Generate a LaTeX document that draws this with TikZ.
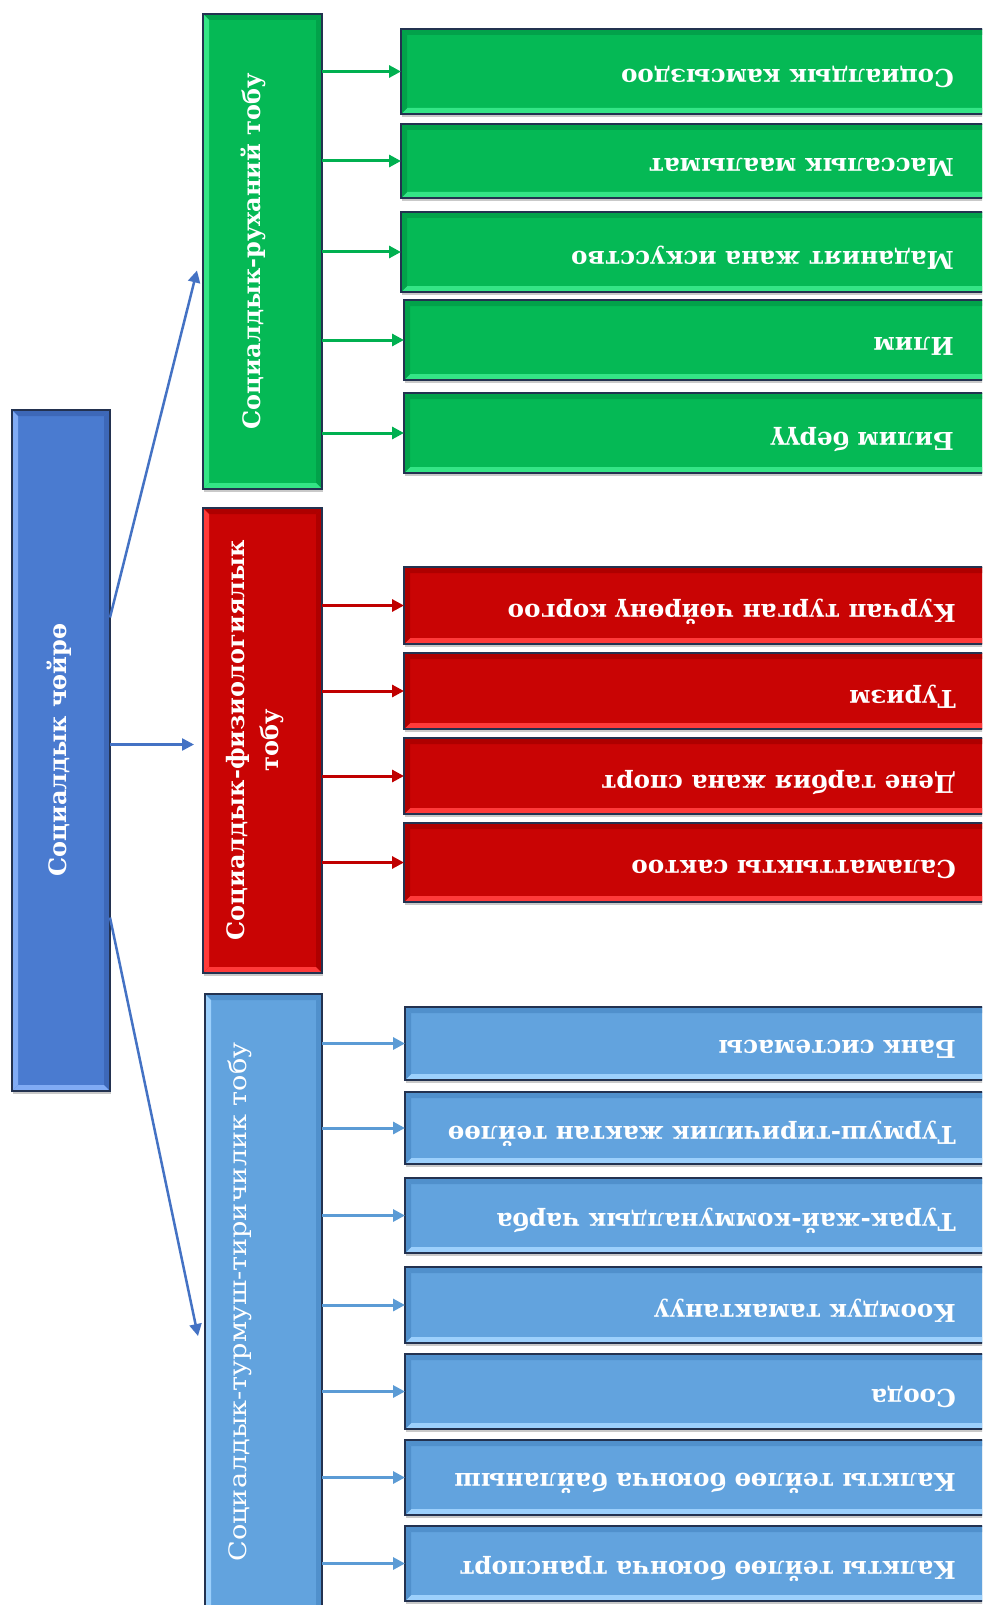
\documentclass[tikz,border=0pt]{standalone}
\usepackage{fontspec}
\setmainfont{DejaVu Serif}
\usetikzlibrary{arrows.meta,shadows}
\definecolor{gf}{HTML}{05B955}
\definecolor{gl}{HTML}{34E586}
\definecolor{gd}{HTML}{02A24A}
\definecolor{rf}{HTML}{C90404}
\definecolor{rl}{HTML}{FF3A3A}
\definecolor{rd}{HTML}{AE0000}
\definecolor{bf}{HTML}{62A3DE}
\definecolor{bl}{HTML}{9CD0FC}
\definecolor{bd}{HTML}{5090CC}
\definecolor{mf}{HTML}{4A7BD0}
\definecolor{ml}{HTML}{80ABF5}
\definecolor{md}{HTML}{3D68B8}
\definecolor{bord}{HTML}{233250}
\definecolor{ga}{HTML}{00B050}
\definecolor{ra}{HTML}{C00000}
\definecolor{ba}{HTML}{5B9BD5}
\definecolor{ma}{HTML}{4472C4}
\tikzset{
  bbox/.style n args={3}{draw=bord, line width=1.4pt, inner sep=0pt, outer sep=0pt,
    anchor=north west, fill=#1f,
    drop shadow={shadow xshift=0.5pt, shadow yshift=-3pt, fill=gray!70, opacity=0.6},
    path picture={
      \fill[#1d] (path picture bounding box.north west) -- (path picture bounding box.north east)
        -- ([xshift=-6pt,yshift=-6pt]path picture bounding box.north east)
        -- ([xshift=6pt,yshift=-6pt]path picture bounding box.north west) -- cycle;
      \fill[#1#3] (path picture bounding box.north east) -- (path picture bounding box.south east)
        -- ([xshift=-6pt,yshift=6pt]path picture bounding box.south east)
        -- ([xshift=-6pt,yshift=-6pt]path picture bounding box.north east) -- cycle;
      \fill[#1l] (path picture bounding box.south west) -- (path picture bounding box.south east)
        -- ([xshift=-6pt,yshift=6pt]path picture bounding box.south east)
        -- ([xshift=6pt,yshift=6pt]path picture bounding box.south west) -- cycle;
      \fill[#1#2] (path picture bounding box.south west) -- (path picture bounding box.north west)
        -- ([xshift=6pt,yshift=-6pt]path picture bounding box.north west)
        -- ([xshift=6pt,yshift=6pt]path picture bounding box.south west) -- cycle;
    }},
  rtext/.style={font=\bfseries\fontsize{24.6}{28}\selectfont, text=white, rotate=180,
    anchor=west, inner sep=0pt, yshift=6pt},
  gtext/.style={font=\bfseries\fontsize{24}{34}\selectfont, text=white, rotate=90,
    align=center, inner sep=0pt},
  arr/.style={draw=#1, line width=3pt, -{Triangle[length=12pt,width=12pt]}},
}
\begin{document}
\begin{tikzpicture}[x=1pt,y=-1pt]
\useasboundingbox (0,0) rectangle (982,1605);
\fill[white] (0,0) rectangle (982,1605);
\clip (0,0) rectangle (982,1605);

% main box
\node[bbox={m}{l}{d}, minimum width=98pt, minimum height=681pt] (M) at (12,410) {};
\node[gtext] (Mt) at (59,750) {Социалдык чөйрө};

% group boxes
\node[bbox={g}{l}{d}, minimum width=119pt, minimum height=475pt] (G) at (203,14) {};
\node[gtext] (Gt) at (253,251) {Социалдык-руханий тобу};
\node[bbox={r}{l}{d}, minimum width=119pt, minimum height=465pt] (R) at (203,508) {};
\node[gtext] (Rt) at (255,740) {Социалдык-физиологиялык\\тобу};
\node[bbox={b}{l}{d}, minimum width=117pt, minimum height=630pt] (B) at (205,994) {};
\node[gtext, font=\fontsize{24}{28}\selectfont] (Bt) at (240,1302) {\scalebox{1.13}[1]{Социалдык-турмуш-тиричилик тобу}};

% green items
\node[bbox={g}{d}{l}, minimum width=590pt, minimum height=85pt] (g1) at (401,29) {};
\node[bbox={g}{d}{l}, minimum width=590pt, minimum height=74pt] (g2) at (401,124) {};
\node[bbox={g}{d}{l}, minimum width=590pt, minimum height=80pt] (g3) at (401,212) {};
\node[bbox={g}{d}{l}, minimum width=587pt, minimum height=80pt] (g4) at (404,300) {};
\node[bbox={g}{d}{l}, minimum width=587pt, minimum height=80pt] (g5) at (404,393) {};
\node[rtext] at (954,71) {Социалдык камсыздоо};
\node[rtext] at (954,161) {Массалык маалымат};
\node[rtext] at (954,252) {Маданият жана искусство};
\node[rtext] at (954,340) {Илим};
\node[rtext] at (954,433) {Билим берүү};

% red items
\node[bbox={r}{d}{l}, minimum width=587pt, minimum height=77pt] (r1) at (404,567) {};
\node[bbox={r}{d}{l}, minimum width=587pt, minimum height=76pt] (r2) at (404,653) {};
\node[bbox={r}{d}{l}, minimum width=587pt, minimum height=76pt] (r3) at (404,738) {};
\node[bbox={r}{d}{l}, minimum width=587pt, minimum height=79pt] (r4) at (404,823) {};
\node[rtext] at (956,606) {Курчап турган чөйрөнү коргоо};
\node[rtext] at (956,691) {Туризм};
\node[rtext] at (956,776) {Дене тарбия жана спорт};
\node[rtext] at (956,863) {Саламаттыкты сактоо};

% blue items
\node[bbox={b}{d}{l}, minimum width=587pt, minimum height=73pt] (b1) at (405,1007) {};
\node[bbox={b}{d}{l}, minimum width=587pt, minimum height=72pt] (b2) at (405,1092) {};
\node[bbox={b}{d}{l}, minimum width=587pt, minimum height=75pt] (b3) at (405,1178) {};
\node[bbox={b}{d}{l}, minimum width=587pt, minimum height=76pt] (b4) at (405,1267) {};
\node[bbox={b}{d}{l}, minimum width=587pt, minimum height=75pt] (b5) at (405,1354) {};
\node[bbox={b}{d}{l}, minimum width=587pt, minimum height=75pt] (b6) at (405,1440) {};
\node[bbox={b}{d}{l}, minimum width=587pt, minimum height=75pt] (b7) at (405,1526) {};
\node[rtext] at (956,1043) {Банк системасы};
\node[rtext] at (956,1128) {Турмуш-тиричилик жактан тейлөө};
\node[rtext] at (956,1215) {Турак-жай-коммуналдык чарба};
\node[rtext] at (956,1305) {Коомдук тамактануу};
\node[rtext] at (956,1391) {Соода};
\node[rtext] at (956,1477) {Калкты тейлөө боюнча байланыш};
\node[rtext] at (956,1563) {Калкты тейлөө боюнча транспорт};

% connectors
\foreach \t in {g1,g2,g3,g4,g5} \draw[arr=ga] (G.east |- \t.west) -- (\t.west);
\foreach \t in {r1,r2,r3,r4} \draw[arr=ra] (R.east |- \t.west) -- (\t.west);
\foreach \t in {b1,b2,b3,b4,b5,b6,b7} \draw[arr=ba] (B.east |- \t.west) -- (\t.west);

\draw[arr=ma, line width=2.5pt] ([yshift=133pt]M.east) -- ([xshift=-6pt,yshift=-19pt]G.west);
\draw[arr=ma, line width=2.5pt] ([yshift=6pt]M.east) -- ([xshift=-9pt,yshift=6pt]M.east -| R.west);
\draw[arr=ma, line width=2.5pt] ([yshift=-167pt]M.east) -- ([xshift=-7pt,yshift=-27pt]B.west);
\end{tikzpicture}
\end{document}
